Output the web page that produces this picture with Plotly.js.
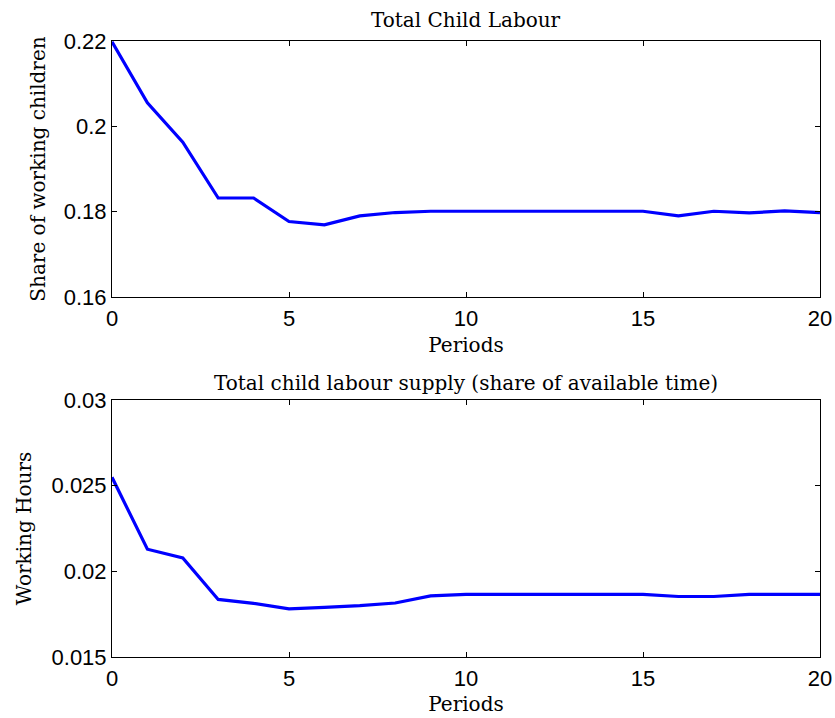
<!DOCTYPE html>
<html><head><meta charset="utf-8">
<script src="https://cdn.plot.ly/plotly-3.0.1.min.js"></script>
<style>html,body{margin:0;padding:0;background:#fff}#c{width:835px;height:718px}</style>
</head><body><div id="c"></div>
<script>
const periods = [0,1,2,3,4,5,6,7,8,9,10,11,12,13,14,15,16,17,18,19,20];
const shareWorking = [0.2198,0.2055,0.1963,0.1832,0.1832,0.1777,0.1769,0.1790,0.1798,0.1801,0.1801,0.1801,0.1801,0.1801,0.1801,0.1801,0.1790,0.1801,0.1797,0.1802,0.1798];
const workingHours = [0.02549,0.02129,0.02078,0.01836,0.01813,0.01781,0.01790,0.01800,0.01815,0.01857,0.01865,0.01866,0.01866,0.01866,0.01866,0.01866,0.01853,0.01853,0.01866,0.01866,0.01866];
const titles = ["Total Child Labour","Total child labour supply (share of available time)"];
const yTitles = ["Share of working children","Working Hours"];
const xTitle = "Periods";

const serif = "DejaVu Serif, Liberation Serif, serif";
const sans = "Liberation Sans, Arial, sans-serif";
const tFont = {family:serif, size:20, color:'#000'};
const axBase = {
  showgrid:false, zeroline:false, showline:true, linecolor:'#000', linewidth:1,
  mirror:'ticks', ticks:'inside', ticklen:5, tickcolor:'#000', tickwidth:1,
  tickfont:{family:sans, size:22, color:'#000'}
};
const data = [
  {x:periods, y:shareWorking, xaxis:'x', yaxis:'y', mode:'lines', line:{color:'#0000ff', width:3.2}},
  {x:periods, y:workingHours, xaxis:'x2', yaxis:'y2', mode:'lines', line:{color:'#0000ff', width:3.2}}
];
const layout = {
  width:835, height:718, showlegend:false, paper_bgcolor:'#fff', plot_bgcolor:'#fff',
  margin:{l:112, r:15, t:41, b:61},
  xaxis: Object.assign({}, axBase, {domain:[0,1], anchor:'y', range:[0,20], dtick:5, tick0:0, ticklabelstandoff:2,
    title:{text:xTitle, font:tFont, standoff:7}}),
  yaxis: Object.assign({}, axBase, {domain:[0.5844,1], anchor:'x', range:[0.16,0.22], dtick:0.02, tick0:0.16,
    title:{text:yTitles[0], font:tFont, standoff:12}}),
  xaxis2: Object.assign({}, axBase, {domain:[0,1], anchor:'y2', range:[0,20], dtick:5, tick0:0, ticklabelstandoff:2,
    title:{text:xTitle, font:tFont, standoff:6}}),
  yaxis2: Object.assign({}, axBase, {domain:[0,0.4172], anchor:'x2', range:[0.015,0.03], dtick:0.005, tick0:0.015,
    title:{text:yTitles[1], font:tFont, standoff:14}}),
  annotations:[
    {text:titles[0], xref:'paper', yref:'paper', x:0.5, y:1, yshift:7, yanchor:'bottom', showarrow:false, font:tFont},
    {text:titles[1], xref:'paper', yref:'paper', x:0.5, y:0.4172, yshift:3, yanchor:'bottom', showarrow:false, font:tFont}
  ]
};
Plotly.newPlot('c', data, layout, {displayModeBar:false, staticPlot:true});
</script></body></html>
